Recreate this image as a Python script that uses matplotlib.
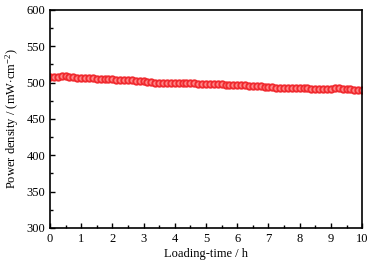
import numpy as np
import matplotlib
matplotlib.use('Agg')
import matplotlib.pyplot as plt
from matplotlib.ticker import MultipleLocator

plt.rcParams['font.family'] = ['Liberation Serif', 'DejaVu Serif']
plt.rcParams['mathtext.fontset'] = 'custom'
plt.rcParams['mathtext.rm'] = 'Liberation Serif'
plt.rcParams['mathtext.it'] = 'Liberation Serif:italic'

# loading time (h), 0.125 h step
time_h = np.arange(0, 10.001, 0.125)
power_density = [
    507.5, 508, 508, 508.5, 508.5, 508, 507.5, 507, 506.5, 506.5,
    506, 506, 505.5, 505, 505, 504.5, 504.5, 504, 504, 503.5,
    503.5, 503, 502.5, 502.5, 502, 501.5, 500.5, 500, 499.5, 499.5,
    500, 500, 500, 499.5, 499.5, 499.5, 499, 499, 498.5, 498.5,
    498, 498, 497.5, 497.5, 497.5, 497, 497, 497, 496.5, 496.5,
    496.5, 496, 496, 495.5, 495, 494.5, 494, 493.5, 493, 492.5,
    492.5, 492.5, 492.5, 492, 492, 492, 492, 491.5, 491.5, 491.5,
    491.5, 491.5, 491.5, 492, 492, 491.5, 491, 491, 490.5, 490,
    489.5,
]

fig = plt.figure(figsize=(3.78, 2.70), dpi=100)
ax = fig.add_axes([0.132, 0.156, 0.826, 0.807])

ax.plot(time_h, power_density, 'o', ms=4.6, mfc='#ff8a8a', mec='#f02a2f', mew=1.4)

ax.set_xlim(0, 10)
ax.set_ylim(300, 600)
ax.xaxis.set_major_locator(MultipleLocator(1))
ax.xaxis.set_minor_locator(MultipleLocator(0.5))
ax.yaxis.set_major_locator(MultipleLocator(50))
ax.yaxis.set_minor_locator(MultipleLocator(25))
ax.tick_params(which='both', direction='in', labelsize=9, width=1)
ax.tick_params(which='major', length=3.5)
ax.tick_params(which='minor', length=2)
for s in ax.spines.values():
    s.set_linewidth(1.2)

ax.set_xlabel('Loading-time / h', fontsize=9, labelpad=2)
ax.set_ylabel('Power density / (mW$\\cdot$cm$^{-2}$)', fontsize=9, labelpad=4)

fig.savefig('out.png', dpi=100)
